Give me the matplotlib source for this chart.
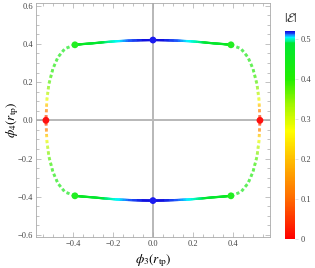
import numpy as np
import matplotlib
matplotlib.use("Agg")
import matplotlib.pyplot as plt
from matplotlib.collections import LineCollection
from matplotlib.colors import LinearSegmentedColormap, Normalize
from matplotlib.ticker import MultipleLocator, FixedLocator

plt.rcParams['mathtext.fontset'] = 'stix'
plt.rcParams['font.family'] = ['Liberation Serif', 'DejaVu Serif']

# first-quadrant branch of the curve, mirrored to the other quadrants
solid_x = [0.0, 0.06, 0.12, 0.18, 0.24, 0.30, 0.35, 0.39]
solid_y = [0.420, 0.419, 0.417, 0.414, 0.409, 0.403, 0.399, 0.395]
solid_e = [0.520, 0.518, 0.513, 0.504, 0.494, 0.480, 0.468, 0.455]

dotted_x = [0.39, 0.44, 0.475, 0.50, 0.52, 0.53, 0.535]
dotted_y = [0.395, 0.375, 0.33, 0.27, 0.19, 0.11, 0.0]
dotted_e = [0.455, 0.44, 0.425, 0.41, 0.37, 0.29, 0.0]

# marked points
dot_x = [0.535, -0.535, 0.39, -0.39, 0.39, -0.39, 0.0, 0.0]
dot_y = [0.0, 0.0, 0.395, 0.395, -0.395, -0.395, 0.42, -0.42]
dot_c = ['#ff1010', '#ff1010', '#22ee22', '#22ee22', '#22ee22', '#22ee22', '#1c1cf0', '#1c1cf0']

emax = 0.52
cmap_stops = [(0.0, '#ff0000'), (0.10, '#ff6a00'), (0.20, '#ffbf00'), (0.27, '#ffff00'),
              (0.34, '#9cf500'), (0.40, '#22ee00'), (0.49, '#00e633'), (0.505, '#00ffff'),
              (0.513, '#2060ff'), (0.52, '#1010e0')]
cmap = LinearSegmentedColormap.from_list('hue', [(v / emax, c) for v, c in cmap_stops])
norm = Normalize(0, emax)

sx, sy = 200.0, 191.0  # px per data unit, for dash spacing


def refine(xs, ys, es, n=20):
    X, Y, E = [], [], []
    for i in range(len(xs) - 1):
        t = np.linspace(0, 1, n, endpoint=False)
        X.extend(xs[i] + t * (xs[i + 1] - xs[i]))
        Y.extend(ys[i] + t * (ys[i + 1] - ys[i]))
        E.extend(es[i] + t * (es[i + 1] - es[i]))
    X.append(xs[-1]); Y.append(ys[-1]); E.append(es[-1])
    return np.array(X), np.array(Y), np.array(E)


def segs(X, Y, E, dash=None):
    pts = np.column_stack([X, Y])
    s = np.concatenate([[0], np.cumsum(np.hypot(np.diff(X) * sx, np.diff(Y) * sy))])
    out, col = [], []
    for i in range(len(X) - 1):
        if dash is not None:
            on, off = dash
            if ((s[i] + s[i + 1]) / 2) % (on + off) > on:
                continue
        out.append(pts[i:i + 2])
        col.append((E[i] + E[i + 1]) / 2)
    return out, col


fig = plt.figure(figsize=(3.15, 2.68), dpi=100)
ax = fig.add_axes([0.114, 0.116, 0.743, 0.873])

ax.axhline(0, color='#b8b8b8', lw=1.4, zorder=1)
ax.axvline(0, color='#b8b8b8', lw=1.4, zorder=1)

for mx in (1, -1):
    for my in (1, -1):
        X, Y, E = refine([mx * v for v in solid_x], [my * v for v in solid_y], solid_e)
        sg, cl = segs(X, Y, E)
        lc = LineCollection(sg, cmap=cmap, norm=norm, linewidths=1.6, capstyle='round', zorder=2)
        lc.set_array(np.array(cl))
        ax.add_collection(lc)
        X, Y, E = refine([mx * v for v in dotted_x], [my * v for v in dotted_y], dotted_e, n=60)
        sg, cl = segs(X, Y, E, dash=(3.2, 2.6))
        lc = LineCollection(sg, cmap=cmap, norm=norm, linewidths=2.0, capstyle='butt', zorder=2)
        lc.set_array(np.array(cl))
        ax.add_collection(lc)

ax.scatter(dot_x, dot_y, s=24, c=dot_c, zorder=3, linewidths=0)

ax.set_xlim(-0.585, 0.585)
ax.set_ylim(-0.61, 0.614)
ax.xaxis.set_major_locator(FixedLocator([-0.4, -0.2, 0.0, 0.2, 0.4]))
ax.yaxis.set_major_locator(FixedLocator([-0.6, -0.4, -0.2, 0.0, 0.2, 0.4, 0.6]))
ax.xaxis.set_minor_locator(MultipleLocator(0.05))
ax.yaxis.set_minor_locator(MultipleLocator(0.05))
ax.set_xticklabels(['\u22120.4', '\u22120.2', '0.0', '0.2', '0.4'])
ax.set_yticklabels(['\u22120.6', '\u22120.4', '\u22120.2', '0.0', '0.2', '0.4', '0.6'])
ax.tick_params(which='both', direction='in', top=True, right=True, color='#aaaaaa',
               labelsize=6, labelcolor='#444444', pad=2, width=0.5)
ax.tick_params(which='major', length=3.5)
ax.tick_params(which='minor', length=2)
for sp in ax.spines.values():
    sp.set_color('#aaaaaa')
    sp.set_linewidth(0.6)

ax.set_xlabel(r'$\phi_3(r_{\mathrm{tp}})$', fontsize=9.5, labelpad=3)
ax.set_ylabel(r'$\phi_4(r_{\mathrm{tp}})$', fontsize=9.5, va='center')
ax.yaxis.set_label_coords(-0.10, 0.5)

cax = fig.add_axes([0.905, 0.108, 0.032, 0.776])
cb = fig.colorbar(plt.cm.ScalarMappable(norm=norm, cmap=cmap), cax=cax)
cb.outline.set_visible(False)
cb.set_ticks([0, 0.1, 0.2, 0.3, 0.4, 0.5])
cb.set_ticklabels(['0', '0.1', '0.2', '0.3', '0.4', '0.5'])
cax.tick_params(labelsize=6, labelcolor='#444444', length=2, color='#cccccc', width=0.4, pad=2)
fig.text(0.922, 0.93, r'$|\mathcal{E}|$', fontsize=9.5, ha='center', va='center', color='#333333')

fig.savefig('out.png', dpi=100)
